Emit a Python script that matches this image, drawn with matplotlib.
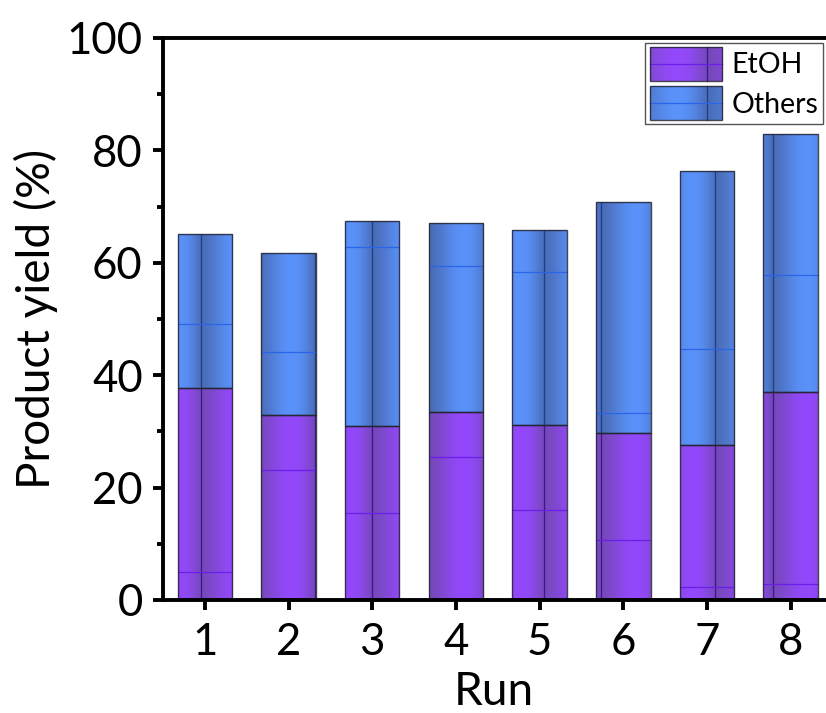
import numpy as np
import matplotlib
matplotlib.use('Agg')
import matplotlib.pyplot as plt
from matplotlib.patches import Rectangle
from matplotlib.lines import Line2D
from matplotlib.legend_handler import HandlerBase
from matplotlib.colors import to_rgb
from matplotlib.ticker import MultipleLocator

# ---- data ----
runs = [1, 2, 3, 4, 5, 6, 7, 8]
etoh = [37.7, 32.9, 30.9, 33.4, 31.1, 29.8, 27.6, 37.0]
others = [27.4, 28.8, 36.5, 33.6, 34.8, 41.0, 48.8, 46.0]
series_names = ["EtOH", "Others"]

# ---- decorative texture seams (style) ----
etoh_seams = [5.0, 23.1, 15.5, 25.4, 16.0, 10.6, 2.3, 2.8]
others_seams = [49.1, 44.1, 62.8, 59.4, 58.3, 33.2, 44.6, 57.8]
tile_w = 0.6835
tile_phase = 0.949

plt.rcParams['font.family'] = ['Lato', 'DejaVu Sans']

P_DARK, P_BRIGHT = np.array(to_rgb('#7548b8')), np.array(to_rgb('#9349fb'))
B_DARK, B_BRIGHT = np.array(to_rgb('#4a6cb6')), np.array(to_rgb('#5a92fa'))
P_VSEAM, P_HSEAM = '#3c1490', '#6a1ee8'
B_VSEAM, B_HSEAM = '#1c3c8c', '#2a64e8'
EDGE = (0.15, 0.15, 0.2, 0.85)


def profile(f):
    return np.sin(np.pi * np.clip(f, 0, 1) ** 1.357)


fig = plt.figure(figsize=(8.26, 7.13), dpi=100)
ax = fig.add_axes([163 / 826, 113 / 713, 662 / 826, 562 / 713])

width = 0.65


def texture(patches, seams, dark, bright, vcol, hcol):
    for p, sy in zip(patches, seams):
        x0, y0 = p.get_x(), p.get_y()
        w, h = p.get_width(), p.get_height()
        xs = np.linspace(x0, x0 + w, 300)
        f = ((xs - tile_phase) / tile_w) % 1.0
        b = profile(f)
        cols = dark[None, :] * (1 - b[:, None]) + bright[None, :] * b[:, None]
        im = ax.imshow(cols[None, :, :], extent=(x0, x0 + w, y0, y0 + h),
                       aspect='auto', zorder=2, interpolation='bilinear')
        im.set_clip_path(p)
        k0 = np.ceil((x0 - tile_phase) / tile_w)
        k1 = np.floor((x0 + w - tile_phase) / tile_w)
        vx = [tile_phase + k * tile_w for k in np.arange(k0, k1 + 1)]
        vx = [v for v in vx if x0 + 0.01 < v < x0 + w - 0.005]
        if vx:
            ax.vlines(vx, y0, y0 + h, color=vcol, lw=0.9, zorder=3)
        ax.hlines(sy, x0, x0 + w, color=hcol, lw=0.9, zorder=3)


bars1 = ax.bar(runs, etoh, width, color=P_BRIGHT, edgecolor='none', zorder=1)
bars2 = ax.bar(runs, others, width, bottom=etoh, color=B_BRIGHT, edgecolor='none', zorder=1)
texture(bars1, etoh_seams, P_DARK, P_BRIGHT, P_VSEAM, P_HSEAM)
texture(bars2, others_seams, B_DARK, B_BRIGHT, B_VSEAM, B_HSEAM)
ax.bar(runs, etoh, width, fill=False, edgecolor=EDGE, lw=1.0, zorder=4)
ax.bar(runs, others, width, bottom=etoh, fill=False, edgecolor=EDGE, lw=1.0, zorder=4)


class GradHandler(HandlerBase):
    def __init__(self, dark, bright, vcol, hcol):
        super().__init__()
        self.dark, self.bright, self.vcol, self.hcol = dark, bright, vcol, hcol

    def create_artists(self, legend, orig_handle, xdescent, ydescent, width,
                       height, fontsize, trans):
        arts = []
        n = 60
        seam = 0.785
        for i in range(n):
            u = (i + 0.5) / n
            b = profile((u - seam) % 1.0)
            c = self.dark * (1 - b) + self.bright * b
            arts.append(Rectangle((-xdescent + i * width / n, -ydescent),
                                  width / n * 1.08, height, facecolor=c,
                                  edgecolor='none', transform=trans))
        arts.append(Line2D([-xdescent + seam * width] * 2,
                           [-ydescent, -ydescent + height], color=self.vcol,
                           lw=0.9, transform=trans))
        arts.append(Line2D([-xdescent, -xdescent + width],
                           [-ydescent + height / 2] * 2, color=self.hcol,
                           lw=0.9, transform=trans))
        arts.append(Rectangle((-xdescent, -ydescent), width, height,
                              facecolor='none', edgecolor=EDGE, lw=1.0,
                              transform=trans))
        return arts


h1 = Rectangle((0, 0), 1, 1)
h2 = Rectangle((0, 0), 1, 1)
leg = ax.legend([h1, h2], series_names,
                handler_map={h1: GradHandler(P_DARK, P_BRIGHT, P_VSEAM, P_HSEAM),
                             h2: GradHandler(B_DARK, B_BRIGHT, B_VSEAM, B_HSEAM)},
                loc='upper right', bbox_to_anchor=(0.997, 0.9916),
                borderaxespad=0, fontsize=20.5, handlelength=2.55,
                handleheight=1.43, handletextpad=0.32, labelspacing=0.2,
                borderpad=0.16, fancybox=False, framealpha=1,
                edgecolor='#555555')
leg.get_frame().set_linewidth(1.0)
leg.set_zorder(10)

ax.set_xlim(0.5, 8.41)
ax.set_ylim(0, 100)
ax.set_xticks(runs)
ax.yaxis.set_major_locator(MultipleLocator(20))
ax.yaxis.set_minor_locator(MultipleLocator(10))

for s in ['left', 'bottom', 'top']:
    ax.spines[s].set_linewidth(2.8)
    ax.spines[s].set_zorder(6)
ax.spines['right'].set_visible(False)

ax.tick_params(axis='both', which='major', direction='out', length=7.5,
               width=2.8, labelsize=31.5)
ax.tick_params(axis='x', which='major', pad=8)
ax.tick_params(axis='y', which='major', pad=7)
ax.tick_params(axis='y', which='minor', direction='out', length=4, width=2.8)
ax.tick_params(top=False, right=False, which='both')

ax.set_xlabel('Run', fontsize=33, labelpad=6)
ax.set_ylabel('Product yield (%)', fontsize=33, labelpad=6)

fig.savefig('out.png', dpi=100)
